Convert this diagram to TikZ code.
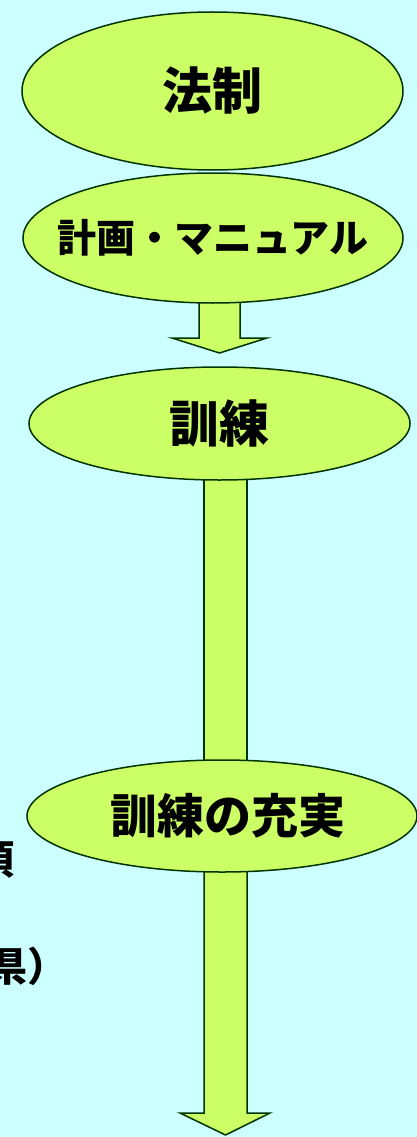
\documentclass[tikz,border=0pt]{standalone}
\usepackage{fontspec}
\newfontfamily\jp{Noto Sans CJK JP}
\usetikzlibrary{shapes.geometric,backgrounds}
\definecolor{bg}{HTML}{CCFFFF}
\definecolor{lime}{HTML}{CCFF66}
\definecolor{edge}{HTML}{003300}
\tikzset{
  ell/.style={ellipse, draw=edge, line width=1.5pt, fill=lime, inner sep=0pt},
  blockarrow/.style={draw=edge, line width=1.5pt, fill=lime, line join=miter},
  big/.style={font=\jp\bfseries\fontsize{50}{50}\selectfont},
  mid/.style={font=\jp\bfseries\fontsize{39}{39}\selectfont},
  side/.style={font=\jp\bfseries\fontsize{40}{40}\selectfont, inner sep=0pt, anchor=east}
}
\begin{document}
\begin{tikzpicture}[x=1pt,y=-1pt]
\useasboundingbox (0,0) rectangle (417,1137);
\clip (0,0) rectangle (417,1137);
\begin{scope}[on background layer]
  \fill[bg] (0,0) rectangle (417,1137);
\end{scope}
\node[ell, big, minimum width=381pt, minimum height=158pt] (law) at (212.5,91) {\makebox[0pt]{法制}};
\node[ell, mid, minimum width=380pt, minimum height=130pt] (plan) at (213,238) {\makebox[0pt]{計画・マニュアル}};
\node[ell, big, minimum width=381pt, minimum height=113pt] (drill) at (219.5,423.5) {\makebox[0pt]{訓練}};
\node[ell, font=\jp\bfseries\fontsize{47}{47}\selectfont, minimum width=390pt, minimum height=112pt] (better) at (222,816) {\makebox[0pt]{\hspace*{12pt}訓練の充実}};
\node[side] (lefta) at (15,860) {項};
\node[side] (leftb) at (68,966) {県）};
\begin{scope}[on background layer]
  \draw[blockarrow] (199,290) -- (199,338) -- (172,338) -- (219.5,353) -- (267,338) -- (240,338) -- (240,290) -- cycle;
  \draw[blockarrow] (204,470) rectangle (247,770);
  \draw[blockarrow] (204,860) -- (204,1113) -- (180,1113) -- (225.5,1135) -- (270,1113) -- (247,1113) -- (247,860) -- cycle;
\end{scope}
\end{tikzpicture}
\end{document}
